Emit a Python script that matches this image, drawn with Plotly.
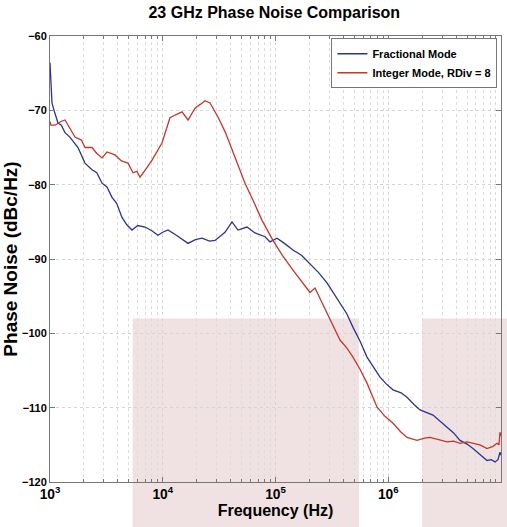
import math
import plotly.graph_objects as go

# 相位噪声数据
freq_frac = [1000, 1041, 1100, 1178, 1260, 1359, 1500, 1771, 2043, 2358, 2600, 2891, 3200, 3548,
             3900, 4351, 4800, 5336, 6000, 6961, 8000, 9077, 10000, 11135, 13500, 16756, 19500,
             22300, 26000, 29070, 35650, 41130, 46450, 55850, 65770, 80700, 89360, 103100, 120000,
             142900, 170000, 202300, 240000, 286300, 373300, 430000, 486600, 560000, 647900,
             745000, 845200, 960000, 1102000, 1300000, 1466000, 1700000, 1912000, 2494000,
             2900000, 3320000, 3800000, 4327000, 5000000, 5645000, 6500000, 7514000, 8200000,
             8850000, 9400000, 9795000, 10000000]
pn_frac = [-63.6, -69.0, -70.3, -71.7, -72.0, -73.0, -73.6, -75.0, -77.1, -78.0, -78.4, -79.8,
           -80.3, -81.7, -82.5, -84.4, -85.4, -86.1, -85.5, -85.7, -86.2, -86.8, -86.4, -86.1,
           -86.9, -87.9, -87.4, -87.2, -87.6, -87.5, -86.4, -85.0, -86.1, -85.7, -86.5, -87.0,
           -87.7, -87.2, -87.9, -88.8, -89.5, -90.6, -91.8, -93.2, -95.9, -97.4, -99.2, -101.0,
           -103.2, -104.6, -105.9, -106.8, -107.6, -108.0, -108.6, -109.6, -110.3, -111.0,
           -111.9, -112.6, -113.4, -114.4, -114.9, -115.5, -116.3, -117.1, -117.0, -117.3,
           -117.0, -116.0, -116.4]

freq_int = [1000, 1020, 1107, 1250, 1359, 1500, 1667, 1900, 2043, 2358, 2600, 2891, 3200, 3771,
            4300, 4920, 5445, 5900, 6281, 7000, 8032, 9840, 11588, 13000, 14825, 16756, 19320,
            21500, 23700, 26250, 30900, 36000, 41130, 47000, 53640, 65000, 75900, 95000, 115000,
            142900, 175000, 202300, 224000, 260000, 304300, 373300, 430000, 486600, 560000,
            647900, 794000, 940000, 1102000, 1300000, 1466000, 1798000, 2100000, 2345000,
            2800000, 3320000, 3800000, 4327000, 5000000, 5645000, 6500000, 7514000, 8500000,
            9215000, 9600000, 9795000, 10000000]
pn_int = [-71.5, -72.0, -72.0, -71.5, -71.3, -72.5, -73.6, -74.0, -75.0, -75.0, -75.8, -76.4,
          -75.6, -76.0, -76.8, -77.1, -78.4, -78.2, -79.0, -78.0, -76.7, -74.4, -71.0, -70.6,
          -70.2, -71.3, -69.7, -69.2, -68.7, -69.0, -70.9, -73.0, -75.3, -77.6, -79.8, -82.5,
          -84.8, -87.5, -89.5, -91.5, -93.3, -94.5, -93.9, -96.0, -98.2, -100.9, -102.0, -103.2,
          -104.8, -106.7, -109.9, -111.2, -112.1, -113.3, -114.0, -114.4, -114.1, -114.0,
          -114.3, -114.6, -114.5, -114.8, -114.6, -114.8, -115.0, -115.5, -115.2, -114.8,
          -115.0, -113.3, -113.8]

# 粉色遮罩区域（频率范围）
shade_ranges = [(5400, 550000), (2000000, 11500000)]
shade_top = -98

BOLD = dict(family="Liberation Sans, Arial, sans-serif", weight="bold", color="black")
AXIS_GRAY = "#777777"

fig = go.Figure()
fig.add_trace(go.Scatter(
    x=freq_frac, y=pn_frac, mode="lines", name="Fractional Mode",
    line=dict(color="#2b3393", width=1.3),
))
fig.add_trace(go.Scatter(
    x=freq_int, y=pn_int, mode="lines", name="Integer Mode, RDiv = 8",
    line=dict(color="#c0392b", width=1.3),
))

for f0, f1 in shade_ranges:
    x0 = (math.log10(f0) - 3) / 4
    x1 = (math.log10(f1) - 3) / 4
    y1 = (shade_top + 120) / 60
    fig.add_shape(
        type="rect", xref="paper", yref="paper",
        x0=x0, x1=x1, y0=-0.11, y1=y1,
        fillcolor="rgba(180,110,110,0.2)", line=dict(width=0), layer="below",
    )

fig.update_layout(
    width=507, height=527,
    margin=dict(l=50, r=6, t=36, b=45, autoexpand=False),
    paper_bgcolor="white", plot_bgcolor="white",
    title=dict(text="23 GHz Phase Noise Comparison", x=0.541, xanchor="center",
               y=0.977, yanchor="middle", font=dict(size=16, **BOLD)),
    legend=dict(x=0.992, y=0.995, xanchor="right", yanchor="top",
                bgcolor="white", bordercolor=AXIS_GRAY, borderwidth=1,
                font=dict(size=11, **BOLD), tracegroupgap=0, itemwidth=30),
    showlegend=True,
)

fig.update_xaxes(
    type="log", range=[3, 7], dtick=1, exponentformat="power", automargin=False,
    showline=True, linecolor=AXIS_GRAY, linewidth=1, mirror="ticks",
    ticks="inside", ticklen=5, tickcolor=AXIS_GRAY,
    showgrid=True, gridcolor="#d4d4d4", griddash="dot", gridwidth=1,
    minor=dict(showgrid=True, gridcolor="#dcdcdc", griddash="dot", ticks="inside",
               ticklen=3, tickcolor=AXIS_GRAY),
    tickfont=dict(size=11, **BOLD),
    title=dict(text="Frequency (Hz)", font=dict(size=16, **BOLD), standoff=0),
    zeroline=False,
)
fig.update_yaxes(
    range=[-120, -60], dtick=10, automargin=False,
    showline=True, linecolor=AXIS_GRAY, linewidth=1, mirror="ticks",
    ticks="inside", ticklen=5, tickcolor=AXIS_GRAY,
    showgrid=True, gridcolor="#d4d4d4", griddash="dot", gridwidth=1,
    tickfont=dict(size=11, **BOLD),
    title=dict(text="Phase Noise (dBc/Hz)", font=dict(size=19, **BOLD), standoff=4),
    zeroline=False,
)

# 去掉页面默认的 body 边距，让图正好填满窗口
fig.write_html("out.html", config={"displayModeBar": False},
               post_script="document.body.style.margin='0';")
